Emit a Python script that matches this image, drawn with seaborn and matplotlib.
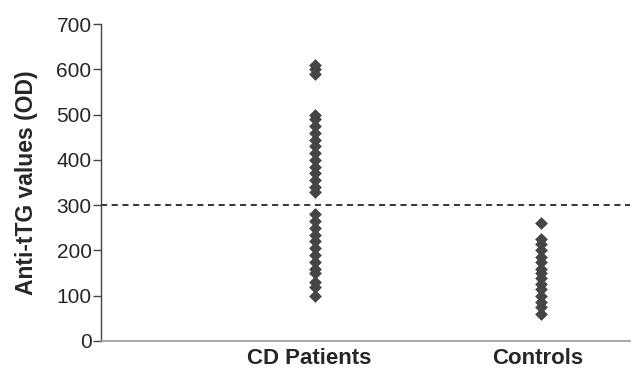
import pandas as pd
import matplotlib.pyplot as plt
import matplotlib.transforms as mtransforms
import seaborn as sns

# Werte
cd_patients = [610, 600, 590,
               500, 490, 475, 460, 445, 430, 415, 400, 385, 370, 355, 340, 330,
               280, 265, 250, 235, 220, 205, 190, 175, 160, 150, 130, 120, 100]
controls = [260, 225, 215, 200, 185, 175, 160, 150, 140, 125, 115, 100, 85, 75, 60]
groups = ['CD Patients', 'Controls']
cutoff = 300

data = pd.DataFrame({
    'Gruppe': [groups[0]] * len(cd_patients) + [groups[1]] * len(controls),
    'Wert': cd_patients + controls,
})

sns.set_style('white')
plt.rcParams['font.family'] = ['Liberation Sans', 'DejaVu Sans']

fig = plt.figure(figsize=(6.33, 3.71), dpi=100)
ax = fig.add_axes([0.16, 0.081, 0.835, 0.854])

sns.stripplot(data=data, x='Gruppe', y='Wert', order=groups, jitter=False,
              marker='D', size=6.5, color='#454545', linewidth=0, ax=ax)

ax.axhline(cutoff, color='black', linestyle=(0, (4, 3)), linewidth=1.1)

ax.set_xlim(-0.94, 1.39)
ax.set_ylim(0, 700)
ax.set_yticks(range(0, 701, 100))
ax.set_xlabel('')
ax.set_ylabel('Anti-tTG values (OD)', fontsize=16.5, fontweight='bold', labelpad=13)

ax.tick_params(axis='y', direction='out', length=6, width=1, color='#444444',
               labelsize=15, pad=1, left=True)
ax.tick_params(axis='x', length=0, labelsize=16, pad=5)
for lbl in ax.get_xticklabels():
    lbl.set_fontweight('bold')

# Beschriftungen leicht nach links versetzt wie im Original
offsets = [-5, -4]
for lbl, dx in zip(ax.get_xticklabels(), offsets):
    lbl.set_transform(lbl.get_transform() +
                      mtransforms.ScaledTranslation(dx / 100, 0, fig.dpi_scale_trans))

sns.despine(ax=ax)
ax.spines['left'].set_color('#444444')
ax.spines['bottom'].set_color('#999999')
ax.spines['left'].set_linewidth(1)
ax.spines['bottom'].set_linewidth(1.2)

fig.savefig('out.png', dpi=100)
